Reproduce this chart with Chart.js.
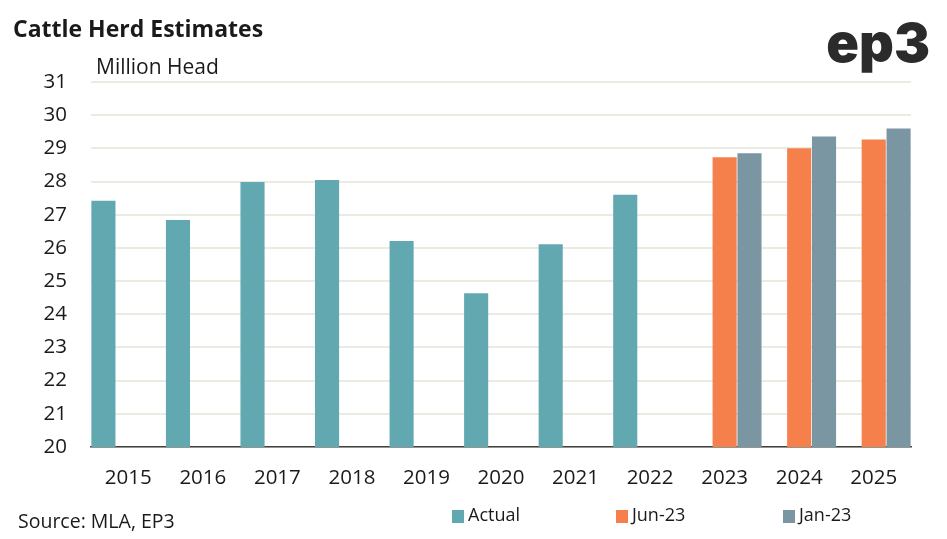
<!DOCTYPE html>
<html><head><meta charset="utf-8">
<script src="https://cdn.jsdelivr.net/npm/chart.js@4.4.0/dist/chart.umd.min.js"></script>
<style>html,body{margin:0;padding:0;background:#fff;}#wrap{width:947px;height:539px;position:relative;}</style>
</head><body><div id="wrap"><canvas id="c" width="947" height="539"></canvas></div>
<script>
const categories = ['2015','2016','2017','2018','2019','2020','2021','2022','2023','2024','2025'];
const actual = [27.42, 26.84, 27.99, 28.05, 26.21, 24.63, 26.11, 27.6, null, null, null];
const jun23 = [null, null, null, null, null, null, null, null, 28.73, 29.0, 29.27];
const jan23 = [null, null, null, null, null, null, null, null, 28.85, 29.36, 29.6];
const yMin = 20, yMax = 31;
const titleText = 'Cattle Herd Estimates';
const unitText = 'Million Head';
const sourceText = 'Source: MLA, EP3';
const logoText = 'ep3';

const FONT = "'Open Sans', 'Liberation Sans', sans-serif";

const overlay = {
  id: 'overlay',
  afterDraw(chart) {
    const ctx = chart.ctx;
    ctx.save();
    ctx.fillStyle = '#1a1a1a';
    ctx.textBaseline = 'middle';
    ctx.textAlign = 'left';
    ctx.font = "bold 23px " + FONT;
    ctx.fillText(titleText, 13, 30);
    ctx.font = "21px " + FONT;
    ctx.fillText(unitText, 96, 68);
    ctx.font = "19.5px " + FONT;
    ctx.fillText(sourceText, 18, 522);
    ctx.font = "900 54px Inter, 'Liberation Sans', sans-serif";
    ctx.textAlign = 'right';
    ctx.textBaseline = 'alphabetic';
    ctx.fillStyle = '#2b2b2b';
    ctx.fillText(logoText, 930, 62);
    // legend
    const lx = [452, 616, 783];
    ctx.textAlign = 'left';
    ctx.textBaseline = 'middle';
    ctx.font = "18px " + FONT;
    chart.data.datasets.forEach((ds, i) => {
      ctx.fillStyle = ds.backgroundColor;
      ctx.fillRect(lx[i], 510, 12, 13);
      ctx.fillStyle = '#1a1a1a';
      ctx.fillText(ds.label, lx[i] + 16, 516);
    });
    ctx.restore();
  }
};

new Chart(document.getElementById('c'), {
  type: 'bar',
  data: {
    labels: categories,
    datasets: [
      { label: 'Actual', data: actual, backgroundColor: '#62a8b0' },
      { label: 'Jun-23', data: jun23, backgroundColor: '#f5804b' },
      { label: 'Jan-23', data: jan23, backgroundColor: '#7a96a2' }
    ]
  },
  options: {
    responsive: false,
    animation: false,
    devicePixelRatio: 1,
    layout: { padding: { top: 82, right: 36, left: 0, bottom: 0 } },
    datasets: { bar: { categoryPercentage: 1.0, barPercentage: 0.97 } },
    plugins: { legend: { display: false }, tooltip: { enabled: false } },
    scales: {
      x: {
        grid: { display: false, drawTicks: false },
        border: { display: true, color: '#404040', width: 1.5 },
        ticks: { color: '#1a1a1a', font: { family: FONT, size: 20.5 }, padding: 19, maxRotation: 0 },
        afterFit(s) { s.height = 92; }
      },
      y: {
        min: yMin, max: yMax,
        grid: { color: '#ebebe1', lineWidth: 2, drawTicks: false },
        border: { display: false },
        ticks: { stepSize: 1, color: '#1a1a1a', font: { family: FONT, size: 20.5 }, padding: 24 },
        afterFit(s) { s.width = 91; }
      }
    }
  },
  plugins: [overlay]
});
</script></body></html>
